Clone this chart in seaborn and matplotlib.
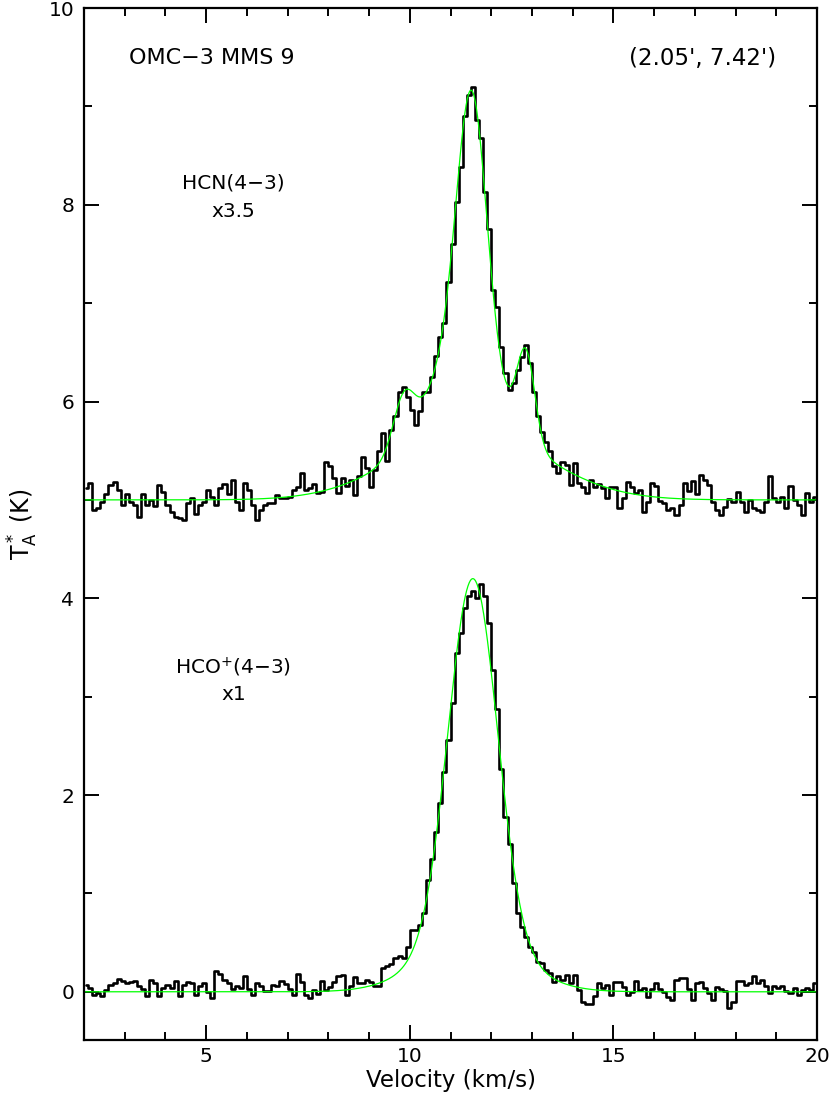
import numpy as np
import pandas as pd
import matplotlib
matplotlib.use("Agg")
import matplotlib.pyplot as plt
import seaborn as sns

# ---- data (channel centres, 0.1 km/s channels) ----
velocity = np.round(np.arange(2.05, 20.0, 0.1), 2)

hcn_low = [0.12, 0.17, -0.10, -0.08, -0.02, 0.06, 0.15, 0.18, 0.10, -0.05,
           0.06, -0.02, -0.05, -0.17, 0.06, -0.05, 0.00, -0.06, 0.15, 0.08,
           -0.05, -0.12, -0.17, -0.18, -0.20, -0.03, 0.02, -0.14, -0.05, -0.02,
           0.10, 0.03, -0.05, 0.12, 0.16, 0.06, 0.20, -0.02, -0.10, 0.17,
           0.10, -0.05, -0.20, -0.10, -0.05, -0.03]
hcn_rise = [4.97, 5.05, 5.02, 5.02, 5.03, 5.10, 5.13, 5.27, 5.10, 5.12,
            5.16, 5.07, 5.08, 5.39, 5.34, 5.22, 5.07, 5.22, 5.14, 5.20,
            5.05, 5.24, 5.44, 5.32, 5.13, 5.30, 5.50, 5.68, 5.40, 5.71,
            5.85, 6.10, 6.15, 6.05, 5.91, 5.76, 5.90, 6.10, 6.10, 6.25,
            6.46, 6.66]
hcn_peak = [6.80, 7.21, 7.60, 8.03, 8.38, 8.90, 9.12, 9.20, 8.86, 8.68,
            8.13, 7.75, 7.13, 6.96, 6.55, 6.29, 6.12, 6.19, 6.32, 6.45,
            6.57, 6.39, 6.10]
hcn_fall = [5.85, 5.69, 5.59, 5.50, 5.34, 5.27, 5.39, 5.35, 5.15, 5.37,
            5.17, 5.13, 5.07, 5.20, 5.13, 5.16, 5.12, 5.02, 5.13, 5.13,
            4.92, 5.02, 5.18, 5.13, 5.07, 5.10, 4.88, 4.98]
hcn_high = [5.17, 5.14, 4.99, 4.97, 4.90, 4.92, 4.85, 4.95, 5.17, 5.09,
            5.19, 5.06, 5.25, 5.20, 5.15, 4.98, 4.90, 4.85, 4.93, 5.01,
            4.98, 5.08, 4.98, 4.88, 5.00, 4.92, 4.90, 4.88, 4.98, 5.24,
            5.02, 4.98, 5.03, 4.92, 5.14, 5.00, 4.95, 4.85, 5.07, 4.98,
            5.03]

hco_low = [0.07, 0.04, -0.03, -0.01, -0.04, 0.02, 0.07, 0.09, 0.13, 0.11,
           0.09, 0.10, 0.11, 0.06, 0.03, -0.04, 0.12, 0.09, -0.04, 0.04,
           0.07, 0.04, 0.11, -0.04, 0.07, 0.10, 0.09, -0.03, 0.06, 0.09,
           0.00, -0.06, 0.21, 0.18, 0.12, 0.09, 0.03, 0.06, 0.04, 0.16,
           0.03, -0.03, 0.09, 0.06, 0.01, 0.01]
hco_rise = [0.07, 0.06, 0.11, 0.08, 0.03, -0.03, 0.18, 0.10, -0.03, -0.06,
            0.02, -0.02, 0.11, 0.02, 0.05, 0.10, 0.16, 0.17, -0.03, 0.06,
            0.15, 0.09, 0.09, 0.12, 0.10, 0.06, 0.06, 0.24, 0.26, 0.28,
            0.34, 0.36, 0.34, 0.46]
hco_peak = [0.63, 0.63, 0.68, 0.80, 1.14, 1.35, 1.62, 1.92, 2.23, 2.56,
            2.94, 3.44, 3.65, 3.90, 4.02, 4.07, 4.00, 4.15, 4.02, 3.75,
            3.27, 2.87, 2.26, 1.78, 1.50, 1.11, 0.80, 0.66, 0.56, 0.46,
            0.40, 0.30, 0.29, 0.22, 0.19, 0.10, 0.16]
hco_fall = [0.12, 0.17, 0.09, 0.17, 0.02, -0.10, -0.12, -0.12, -0.04, 0.09,
            0.04, 0.07, -0.03, 0.10, 0.10, 0.05, -0.03, 0.00, 0.11, 0.02,
            0.04, -0.05, 0.03, 0.09, 0.03, 0.00, -0.05, -0.08, 0.12, 0.14,
            0.14, 0.03, -0.08, 0.09, 0.10]
hco_high = [0.04, -0.01, -0.08, 0.05, 0.03, 0.01, -0.16, -0.10, 0.11, 0.11,
            0.07, 0.09, 0.16, 0.09, 0.12, 0.06, -0.01, 0.06, 0.04, 0.06,
            0.01, -0.01, 0.04, -0.03, 0.02, 0.04, 0.02, 0.09]

hcn_offset = 5.0
# Gaussian fit components: amplitude, centre, sigma
hcn_fit_amp = [0.70, 0.90, 2.60, 0.50, 0.90]
hcn_fit_cen = [11.50, 11.30, 11.52, 9.85, 12.85]
hcn_fit_sig = [1.80, 0.75, 0.36, 0.26, 0.22]
hco_fit_amp = [3.70, 0.50]
hco_fit_cen = [11.55, 11.50]
hco_fit_sig = [0.60, 1.20]

# ---- assemble ----
hcn = np.array([v + hcn_offset for v in hcn_low] + hcn_rise + hcn_peak + hcn_fall + hcn_high)
hco = np.array(hco_low + hco_rise + hco_peak + hco_fall + hco_high)

vfit = np.linspace(2.0, 20.0, 1200)
def model(amps, cens, sigs, base=0.0):
    y = np.full_like(vfit, base)
    for a, c, s in zip(amps, cens, sigs):
        y += a * np.exp(-(vfit - c) ** 2 / (2 * s ** 2))
    return y

df = pd.DataFrame({"v": np.concatenate([velocity, velocity]),
                   "T": np.concatenate([hcn, hco]),
                   "line": ["HCN"] * len(velocity) + ["HCO"] * len(velocity)})
fit = pd.DataFrame({"v": np.concatenate([vfit, vfit]),
                    "T": np.concatenate([model(hcn_fit_amp, hcn_fit_cen, hcn_fit_sig, hcn_offset),
                                         model(hco_fit_amp, hco_fit_cen, hco_fit_sig)]),
                    "line": ["HCN"] * len(vfit) + ["HCO"] * len(vfit)})

sns.set_theme(style="ticks")
plt.rcParams["font.family"] = ["DejaVu Sans"]
plt.rcParams["mathtext.fontset"] = "dejavusans"
for k in ["text.color", "axes.labelcolor", "xtick.color", "ytick.color", "axes.edgecolor"]:
    plt.rcParams[k] = "black"

fig = plt.figure(figsize=(8.3, 11.05), dpi=100)
ax = fig.add_axes([84 / 830, 1 - 1040 / 1105, (817 - 84) / 830, (1040 - 8) / 1105])

for name in ["HCN", "HCO"]:
    sns.lineplot(data=df[df.line == name], x="v", y="T", ax=ax, color="black",
                 lw=1.9, drawstyle="steps-mid", estimator=None, sort=False, legend=False)
    sns.lineplot(data=fit[fit.line == name], x="v", y="T", ax=ax, color="#00ff00",
                 lw=0.9, estimator=None, sort=False, legend=False)

ax.set_xlim(2, 20)
ax.set_ylim(-0.49, 10)
ax.set_xticks([5, 10, 15, 20])
ax.set_xticks(np.arange(2, 21, 1), minor=True)
ax.set_yticks([0, 2, 4, 6, 8, 10])
ax.set_yticks(np.arange(0, 11, 1), minor=True)
ax.tick_params(which="both", direction="in", top=True, right=True, width=1.4,
               labelsize=14.5, pad=7)
ax.tick_params(axis="x", which="both", pad=5)
ax.tick_params(which="major", length=11)
ax.tick_params(which="minor", length=6)
for s in ax.spines.values():
    s.set_linewidth(1.6)

ax.set_xlabel("Velocity (km/s)", fontsize=16.5, labelpad=2)
ax.set_ylabel(r"$\mathregular{T_A^*}$ (K)", fontsize=17, labelpad=6)

txt = dict(ha="center", va="center", color="black")
ax.text(5.13, 9.49, "OMC−3 MMS 9", fontsize=16, **txt)
ax.text(17.2, 9.49, "(2.05', 7.42')", fontsize=16.5, **txt)
ax.text(5.67, 8.22, "HCN(4−3)", fontsize=14.5, **txt)
ax.text(5.67, 7.93, "x3.5", fontsize=14.5, **txt)
ax.text(5.67, 3.30, r"HCO$^{\mathregular{+}}$(4−3)", fontsize=14.5, **txt)
ax.text(5.67, 3.02, "x1", fontsize=14.5, **txt)

fig.savefig("out.png", dpi=100)
